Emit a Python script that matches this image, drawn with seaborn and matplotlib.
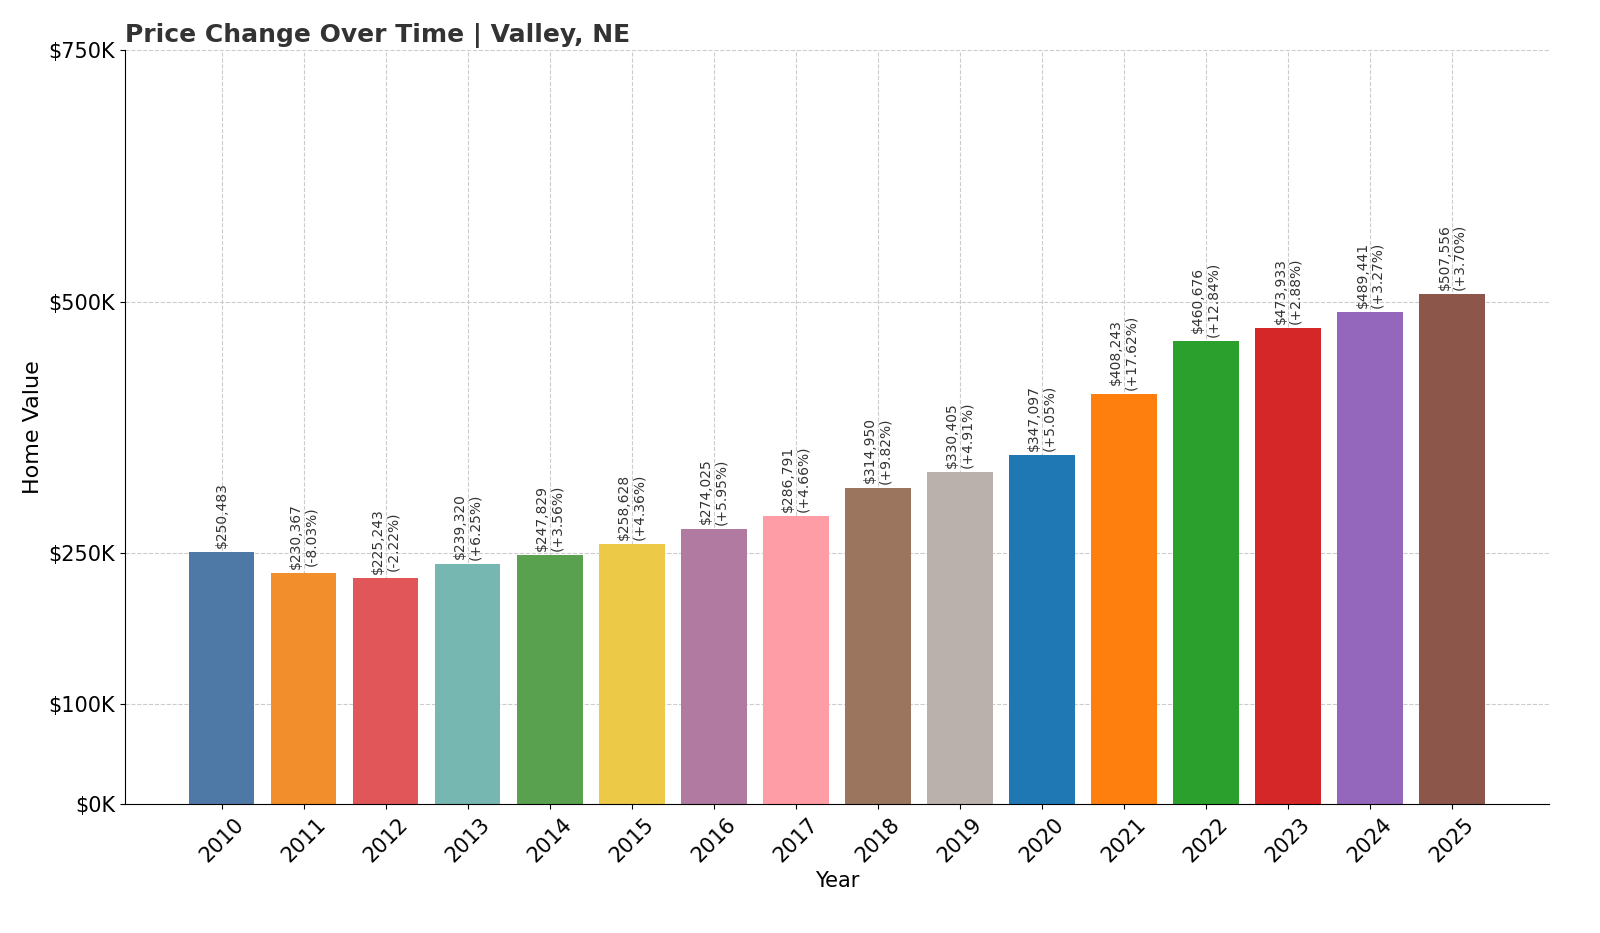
import matplotlib
matplotlib.use("Agg")
import matplotlib.pyplot as plt
import seaborn as sns
import pandas as pd

years = [str(y) for y in range(2010, 2026)]
values = [250483, 230367, 225243, 239320, 247829, 258628, 274025, 286791, 314950,
          330405, 347097, 408243, 460676, 473933, 489441, 507556]
changes = [None, "-8.03%", "-2.22%", "+6.25%", "+3.56%", "+4.36%", "+5.95%", "+4.66%",
           "+9.82%", "+4.91%", "+5.05%", "+17.62%", "+12.84%", "+2.88%", "+3.27%", "+3.70%"]
colors = ["#4e79a7", "#f28e2b", "#e15759", "#76b7b2", "#59a14f", "#edc948", "#b07aa1",
          "#ff9da7", "#9c755f", "#bab0ac", "#1f77b4", "#ff7f0e", "#2ca02c", "#d62728",
          "#9467bd", "#8c564b"]
yticks = [0, 100000, 250000, 500000, 750000]
yticklabels = ["$0K", "$100K", "$250K", "$500K", "$750K"]

df = pd.DataFrame({"Year": years, "Value": values})
fig = plt.figure(figsize=(16, 9.33), dpi=100)
ax = fig.add_axes([0.078, 0.138, 0.89, 0.808])
sns.barplot(data=df, x="Year", y="Value", hue="Year", palette=colors, legend=False,
            width=0.8, saturation=1, ax=ax, zorder=2)
ax.set_ylim(0, 750000)
ax.set_xlim(-1.18, 16.18)
ax.set_yticks(yticks)
ax.set_yticklabels(yticklabels, fontsize=15)
ax.tick_params(axis="x", labelsize=15, rotation=45)
ax.grid(True, linestyle="--", color="#cccccc", linewidth=0.8, zorder=0)
ax.set_axisbelow(True)
for s in ["top", "right"]:
    ax.spines[s].set_visible(False)
ax.set_xlabel("Year", fontsize=15)
ax.set_ylabel("Home Value", fontsize=16)
ax.set_title("Price Change Over Time | Valley, NE", fontsize=18, fontweight="bold",
             color="#333333", loc="left", x=0.0, y=1.0, pad=6)
for i, (v, c) in enumerate(zip(values, changes)):
    txt = f"${v:,}" if c is None else f"${v:,}\n({c})"
    ax.text(i, v + 4000, txt, rotation=90, ha="center", va="bottom", fontsize=10,
            color="#333333", linespacing=1.1)
fig.savefig("out.png", dpi=100)
